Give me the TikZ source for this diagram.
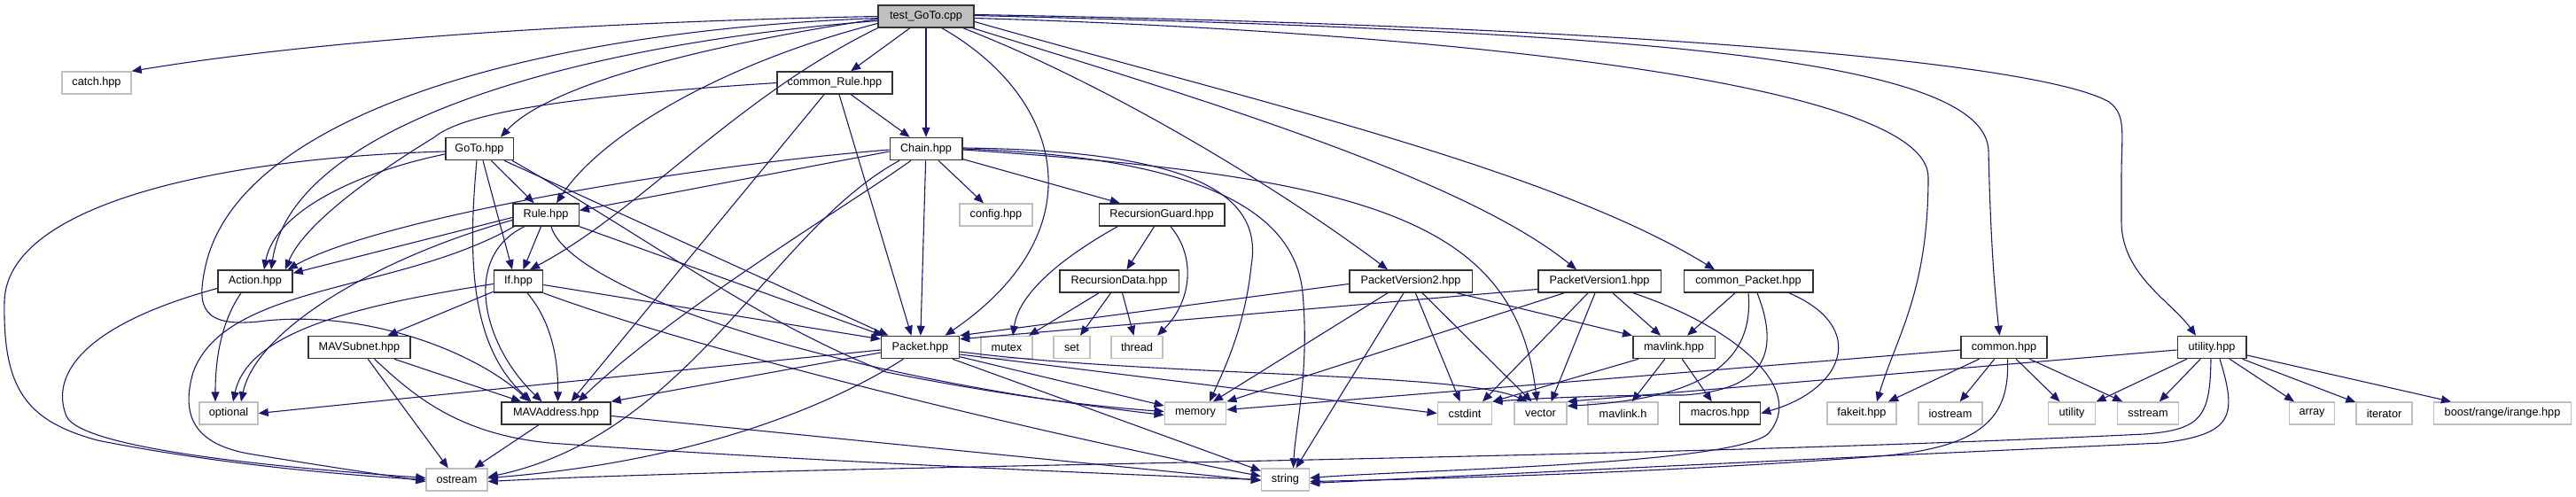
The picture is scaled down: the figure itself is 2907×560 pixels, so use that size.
\documentclass[tikz,border=0pt]{standalone}
\usepackage{fontspec}
\setmainfont{Liberation Sans}
\usetikzlibrary{arrows.meta}
\definecolor{edgec}{HTML}{191970}
\definecolor{lgray}{HTML}{BFBFBF}
\definecolor{dborder}{HTML}{333333}
\tikzset{
  box/.style={rectangle, minimum height=25pt, inner sep=0pt, font=\fontsize{12.7}{15}\selectfont},
  dn/.style={box, draw=dborder, line width=1.5pt, fill=white},
  ln/.style={box, draw=lgray, line width=1.4pt, fill=white},
  tn/.style={box, draw=dborder, line width=1.5pt, fill=lgray},
  edg/.style={draw=edgec, line width=1.1pt, -{Triangle[length=11pt,width=9pt]}},
}
\begin{document}
\begin{tikzpicture}[x=1pt,y=-1pt]
\fill[white] (0,0) rectangle (2907,560);
\useasboundingbox (0,0) rectangle (2907,560);
% nodes
\node[tn, minimum width=108pt] (T) at (1045,18.5) {test\_GoTo.cpp};
\node[ln, minimum width=78pt] (catch) at (109,93.5) {catch.hpp};
\node[dn, minimum width=130pt] (cR) at (942,93.5) {common\_Rule.hpp};
\node[dn, minimum width=76.5pt] (GoTo) at (541,168) {GoTo.hpp};
\node[dn, minimum width=81.5pt] (Chain) at (1045,168) {Chain.hpp};
\node[dn, minimum width=74.5pt] (Rule) at (616,242.5) {Rule.hpp};
\node[ln, minimum width=82pt] (config) at (1124,242.5) {config.hpp};
\node[dn, minimum width=141.5pt] (RG) at (1311,242.5) {RecursionGuard.hpp};
\node[dn, minimum width=84pt] (Action) at (288,317.5) {Action.hpp};
\node[dn, minimum width=55pt] (If) at (585,317.5) {If.hpp};
\node[dn, minimum width=134.5pt] (RD) at (1263,317.5) {RecursionData.hpp};
\node[dn, minimum width=138.5pt] (PV2) at (1592,317.5) {PacketVersion2.hpp};
\node[dn, minimum width=138.5pt] (PV1) at (1805,317.5) {PacketVersion1.hpp};
\node[dn, minimum width=145.5pt] (cP) at (1973,317.5) {common\_Packet.hpp};
\node[dn, minimum width=115pt] (MS) at (405.5,392) {MAVSubnet.hpp};
\node[dn, minimum width=88pt] (Packet) at (1038.5,392) {Packet.hpp};
\node[ln, minimum width=58pt] (mutex) at (1136,392) {mutex};
\node[ln, minimum width=41pt] (set) at (1209.5,392) {set};
\node[ln, minimum width=58pt] (thread) at (1283,392) {thread};
\node[dn, minimum width=92.5pt] (mlh) at (1889,392) {mavlink.hpp};
\node[dn, minimum width=97pt] (common) at (2261.5,392) {common.hpp};
\node[dn, minimum width=77.5pt] (uh) at (2496,392) {utility.hpp};
\node[ln, minimum width=66pt] (optional) at (258,466.5) {optional};
\node[dn, minimum width=123pt] (MA) at (627.5,466.5) {MAVAddress.hpp};
\node[ln, minimum width=69.5pt] (memory) at (1349,466.5) {memory};
\node[ln, minimum width=61.5pt] (cstdint) at (1653,466.5) {cstdint};
\node[ln, minimum width=59pt] (vector) at (1738.5,466.5) {vector};
\node[ln, minimum width=79pt] (mlhh) at (1831.5,466.5) {mavlink.h};
\node[dn, minimum width=91pt] (macros) at (1941,466.5) {macros.hpp};
\node[ln, minimum width=78pt] (fakeit) at (2101,466.5) {fakeit.hpp};
\node[ln, minimum width=72pt] (iostream) at (2201,466.5) {iostream};
\node[ln, minimum width=53.5pt] (utility) at (2338,466.5) {utility};
\node[ln, minimum width=69.5pt] (sstream) at (2424,466.5) {sstream};
\node[ln, minimum width=50.5pt] (array) at (2609,466.5) {array};
\node[ln, minimum width=63pt] (iterator) at (2690.5,466.5) {iterator};
\node[ln, minimum width=154.5pt] (boost) at (2824,466.5) {boost/range/irange.hpp};
\node[ln, minimum width=69pt] (ostream) at (515.5,541.5) {ostream};
\node[ln, minimum width=54pt] (string) at (1450.5,541.5) {string};
% test_GoTo.cpp
\draw[edg] (T.west) .. controls (700,24) and (380,42) .. (catch.north east);
\draw[edg] (T) -- (cR);
\draw[edg] (T) -- (Chain);
\draw[edg] ([yshift=-3pt]T.west) .. controls (800,50) and (620,95) .. ([xshift=24pt]GoTo.north);
\draw[edg] ([yshift=-8pt]T.west) .. controls (820,70) and (680,150) .. ([xshift=12pt]Rule.north);
\draw[edg] ([yshift=-5pt]T.west) .. controls (650,50) and (330,140) .. ([xshift=18pt]Action.north);
\draw[edg] (T.south west) .. controls (830,110) and (720,240) .. ([xshift=13pt]If.north);
\draw[edg] ([yshift=-2pt]T.west) .. controls (600,35) and (270,130) .. (232,300) .. controls (222,345) and (225,372) .. (300,362) .. controls (420,350) and (540,400) .. ([xshift=-30pt]MA.north);
\draw[edg] ([xshift=18pt]T.south) .. controls (1200,110) and (1240,260) .. ([xshift=28pt]Packet.north);
\draw[edg] ([xshift=42pt]T.south) .. controls (1250,95) and (1440,210) .. ([xshift=-26pt]PV2.north);
\draw[edg] ([xshift=-2pt]T.south east) .. controls (1350,110) and (1650,200) .. ([xshift=-26pt]PV1.north);
\draw[edg] ([yshift=-6pt]T.east) .. controls (1400,110) and (1750,190) .. ([xshift=-38pt]cP.north);
\draw[edg] ([yshift=-2pt]T.east) .. controls (1600,35) and (2176,90) .. (2176,200) .. controls (2176,330) and (2140,380) .. ([xshift=17pt]fakeit.north);
\draw[edg] ([yshift=1pt]T.east) .. controls (1800,35) and (2240,60) .. (2244,170) .. controls (2246,260) and (2250,320) .. ([xshift=-5pt]common.north);
\draw[edg] ([yshift=2pt]T.east) .. controls (1850,30) and (2300,70) .. (2380,115) .. controls (2400,130) and (2394,150) .. (2394,200) -- (2394,250) .. controls (2394,310) and (2450,340) .. ([xshift=-18pt]uh.north);
% common_Rule.hpp
\draw[edg] (cR) -- (Chain);
\draw[edg] (cR.west) .. controls (620,110) and (520,130) .. (490,155) .. controls (400,210) and (340,260) .. ([xshift=34pt]Action.north);
\draw[edg] ([xshift=-12pt]cR.south) -- ([xshift=17pt]MA.north);
\draw[edg] ([xshift=5pt]cR.south) -- ([xshift=-10pt]Packet.north);
% GoTo.hpp
\draw[edg] ([yshift=-3pt]GoTo.west) .. controls (250,178) and (8,230) .. (5,340) .. controls (3,440) and (30,475) .. (110,497) .. controls (250,525) and (400,537) .. (ostream.west);
\draw[edg] ([yshift=-6pt]GoTo.west) .. controls (400,195) and (310,240) .. ([xshift=10pt]Action.north);
\draw[edg] ([xshift=-3pt]GoTo.south) .. controls (528,290) and (530,390) .. ([xshift=-28pt]MA.north);
\draw[edg] ([xshift=4pt]GoTo.south) -- ([xshift=-7pt]If.north);
\draw[edg] (GoTo) -- (Rule);
\draw[edg] ([xshift=28pt]GoTo.south) -- ([xshift=-36pt]Packet.north);
\draw[edg] ([xshift=-2pt]GoTo.south east) .. controls (750,280) and (850,360) .. (1000,420) .. controls (1150,450) and (1250,460) .. ([yshift=2pt]memory.west);
% Chain.hpp
\draw[edg] ([yshift=-3pt]Chain.west) -- ([yshift=5pt]Rule.east);
\draw[edg] ([yshift=-1pt]Chain.west) .. controls (750,190) and (420,250) .. ([xshift=-6pt]Action.north east);
\draw[edg] ([xshift=-17pt]Chain.south) .. controls (960,230) and (760,350) .. ([xshift=25pt]MA.north);
\draw[edg] ([xshift=-30pt]Chain.south) .. controls (870,260) and (780,490) .. ([yshift=3pt]ostream.east);
\draw[edg] (Chain) -- (Packet);
\draw[edg] (Chain) -- (config);
\draw[edg] (Chain) -- (RG);
\draw[edg] ([yshift=1pt]Chain.east) .. controls (1360,170) and (1425,225) .. (1412,300) .. controls (1405,370) and (1380,420) .. ([xshift=16pt]memory.north);
\draw[edg] (Chain.east) .. controls (1380,178) and (1462,250) .. (1470,330) .. controls (1478,420) and (1462,480) .. ([xshift=9pt]string.north);
\draw[edg] ([yshift=-1pt]Chain.east) .. controls (1550,200) and (1710,250) .. ([xshift=-4pt]vector.north);
% Rule.hpp
\draw[edg] ([yshift=-3pt]Rule.west) -- ([yshift=-4pt]Action.north east);
\draw[edg] (Rule) -- (If);
\draw[edg] ([xshift=-24pt]Rule.south) .. controls (520,290) and (545,390) .. ([xshift=-16pt]MA.north);
\draw[edg] (Rule.south east) -- ([xshift=-42pt]Packet.north);
\draw[edg] ([xshift=6pt]Rule.south) .. controls (640,320) and (900,420) .. ([yshift=-2pt]memory.west);
\draw[edg] ([yshift=-6pt]Rule.west) .. controls (430,290) and (290,370) .. ([xshift=14pt]optional.north);
\draw[edg] ([xshift=-36pt]Rule.south) .. controls (450,330) and (255,320) .. (218,420) .. controls (205,465) and (215,500) .. (280,512) .. controls (370,527) and (440,537) .. ([yshift=-2pt]ostream.west);
% If.hpp
\draw[edg] ([yshift=-3pt]If.west) .. controls (400,345) and (280,375) .. ([xshift=5pt]optional.north);
\draw[edg] (If) -- (MS);
\draw[edg] ([xshift=10pt]If.south) .. controls (620,360) and (630,400) .. ([xshift=2pt]MA.north);
\draw[edg] ([yshift=-4pt]If.east) -- ([yshift=-4pt]Packet.north west);
\draw[edg] (If.south east) .. controls (800,400) and (1200,495) .. ([yshift=4pt]string.west);
% MAVSubnet.hpp
\draw[edg] (MS) -- (MA);
\draw[edg] (MS) -- (ostream);
\draw[edg] ([xshift=17pt]MS.south) .. controls (470,450) and (520,490) .. (620,500) .. controls (900,520) and (1250,535) .. (string.west);
% MAVAddress.hpp
\draw[edg] (MA) -- (ostream);
\draw[edg] ([yshift=-3pt]MA.east) -- ([yshift=-1pt]string.west);
% Action.hpp
\draw[edg] ([xshift=-16pt]Action.south) .. controls (245,370) and (243,420) .. ([xshift=-15pt]optional.north);
\draw[edg] ([yshift=-8pt]Action.west) .. controls (100,365) and (55,420) .. (75,470) .. controls (95,510) and (350,530) .. ([yshift=2pt]ostream.west);
% Packet.hpp
\draw[edg] ([yshift=-3pt]Packet.west) -- (optional.east);
\draw[edg] ([yshift=-6pt]Packet.west) -- (MA.north east);
\draw[edg] ([xshift=-19pt]Packet.south) .. controls (950,450) and (800,520) .. ([yshift=2pt]ostream.east);
\draw[edg] (Packet) -- (memory);
\draw[edg] (Packet) -- (string);
\draw[edg] ([yshift=-8pt]Packet.east) -- (cstdint.west);
\draw[edg] ([yshift=-5pt]Packet.east) .. controls (1300,425) and (1650,420) .. ([xshift=-15pt]vector.north);
% RecursionGuard / RecursionData
\draw[edg] (RG) -- (RD);
\draw[edg] ([xshift=-50pt]RG.south) .. controls (1200,290) and (1150,330) .. ([xshift=7pt]mutex.north);
\draw[edg] ([xshift=10pt]RG.south) .. controls (1350,290) and (1345,340) .. ([xshift=23pt]thread.north);
\draw[edg] ([xshift=-23pt]RD.south) -- ([xshift=25pt]mutex.north);
\draw[edg] (RD) -- (set);
\draw[edg] (RD) -- (thread);
% PacketVersion2.hpp
\draw[edg] ([yshift=-3pt]PV2.west) -- (Packet.north east);
\draw[edg] ([xshift=-26pt]PV2.south) -- ([xshift=20pt]memory.north);
\draw[edg] ([xshift=-8pt]PV2.south) -- ([xshift=12pt]string.north);
\draw[edg] (PV2) -- (cstdint);
\draw[edg] ([xshift=13pt]PV2.south) -- ([xshift=-10pt]vector.north);
\draw[edg] ([xshift=52pt]PV2.south) -- (mlh.north west);
% PacketVersion1.hpp
\draw[edg] ([yshift=-9pt]PV1.west) -- ([yshift=-4pt]Packet.north east);
\draw[edg] ([xshift=-40pt]PV1.south) -- (memory.north east);
\draw[edg] ([xshift=-13pt]PV1.south) -- ([xshift=20pt]cstdint.north);
\draw[edg] ([xshift=-5pt]PV1.south) -- ([xshift=12pt]vector.north);
\draw[edg] ([xshift=15pt]PV1.south) -- ([xshift=-15pt]mlh.north);
\draw[edg] ([xshift=38pt]PV1.south) .. controls (1960,370) and (2040,440) .. (1995,490) .. controls (1950,525) and (1600,530) .. ([yshift=2pt]string.east);
% common.hpp
\draw[edg] ([yshift=-3pt]common.west) -- ([yshift=4pt]memory.east);
\draw[edg] ([xshift=-28pt]common.south) -- ([xshift=30pt]fakeit.north);
\draw[edg] (common) -- (iostream);
\draw[edg] ([xshift=4pt]common.south) .. controls (2268,470) and (2240,505) .. (2120,515) .. controls (1900,532) and (1650,540) .. ([yshift=-2pt]string.east);
\draw[edg] (common) -- (utility);
\draw[edg] (common) -- (sstream);
% utility.hpp
\draw[edg] ([yshift=-3pt]uh.west) -- (vector.north east);
\draw[edg] (uh) -- (utility);
\draw[edg] (uh) -- (sstream);
\draw[edg] (uh) -- (array);
\draw[edg] (uh) -- (iterator);
\draw[edg] (uh) -- (boost);
\draw[edg] ([xshift=-1pt]uh.south) .. controls (2494,470) and (2485,485) .. (2420,490) .. controls (1800,520) and (900,525) .. ([yshift=-2pt]ostream.east);
\draw[edg] ([xshift=9pt]uh.south) .. controls (2525,470) and (2520,490) .. (2440,500) .. controls (2000,520) and (1700,535) .. ([yshift=-4pt]string.east);
% mavlink.hpp
\draw[edg] ([xshift=-40pt]mlh.south) -- (cstdint.north east);
\draw[edg] (mlh) -- (mlhh);
\draw[edg] (mlh) -- (macros);
% common_Packet.hpp
\draw[edg] ([xshift=-15pt]cP.south) -- ([xshift=15pt]mlh.north);
\draw[edg] (cP.south) .. controls (1980,410) and (1920,450) .. ([yshift=-5pt]vector.north east);
\draw[edg] ([xshift=10pt]cP.south) .. controls (2010,400) and (1990,440) .. (1900,446) .. controls (1800,446) and (1730,450) .. (cstdint.north east);
\draw[edg] ([xshift=46pt]cP.south) .. controls (2110,370) and (2080,440) .. (macros.east);
\end{tikzpicture}
\end{document}
